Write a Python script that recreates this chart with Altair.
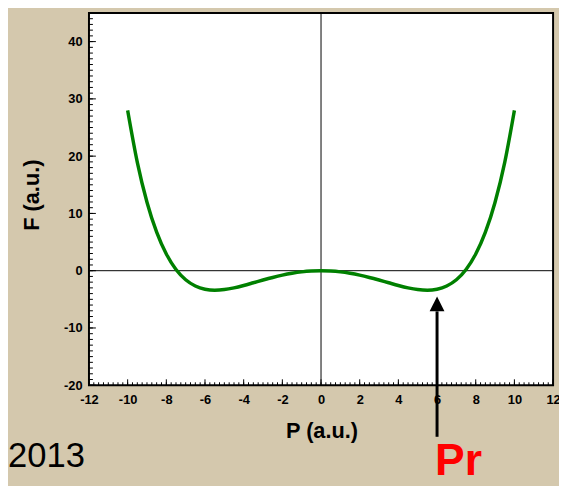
import altair as alt
import pandas as pd

# ---- data ----
P_vals = [-10, -9.5, -9, -8.5, -8, -7.5, -7, -6.5, -6, -5.5, -5, -4.5, -4, -3.5, -3,
          -2.5, -2, -1.5, -1, -0.5, 0, 0.5, 1, 1.5, 2, 2.5, 3, 3.5, 4, 4.5, 5, 5.5,
          6, 6.5, 7, 7.5, 8, 8.5, 9, 9.5, 10]
F_vals = [28.0, 18.93, 11.96, 6.73, 2.91, 0.21, -1.58, -2.67, -3.23, -3.40, -3.29,
          -2.99, -2.58, -2.11, -1.63, -1.18, -0.78, -0.45, -0.2, -0.05, 0.0, -0.05,
          -0.2, -0.45, -0.78, -1.18, -1.63, -2.11, -2.58, -2.99, -3.29, -3.40, -3.23,
          -2.67, -1.58, 0.21, 2.91, 6.73, 11.96, 18.93, 28.0]

x_major = [-12, -10, -8, -6, -4, -2, 0, 2, 4, 6, 8, 10, 12]
x_minor = [v / 4 for v in range(-48, 49)]
y_major = [-20, -10, 0, 10, 20, 30, 40]
y_minor = list(range(-20, 46))

Pr_value = 6
arrow_tail_F = -29.0
arrow_base_F = -7.1
arrow_head_F = -5.8

W, H = 470, 377
FONT = "Liberation Sans"

xscale = alt.Scale(domain=[-12, 12], nice=False, zero=False)
yscale = alt.Scale(domain=[-20, 45], nice=False, zero=False)

x_axis = alt.Axis(
    values=x_major, title="P (a.u.)", labelExpr="'' + datum.value",
    domain=False, ticks=False, grid=False, labelPadding=8,
    labelFont=FONT, labelFontSize=13, labelFontWeight="bold", labelColor="black",
    titleFont=FONT, titleFontSize=22, titleFontWeight="bold", titleColor="black",
    titleX=235.5, titleY=53, titleBaseline="alphabetic", titleAlign="center",
    labelFlush=False, labelOverlap=False)
y_axis = alt.Axis(
    values=y_major, title="F (a.u.)", labelExpr="'' + datum.value",
    domain=False, ticks=False, grid=False, labelPadding=7,
    labelFont=FONT, labelFontSize=13, labelFontWeight="bold", labelColor="black",
    titleFont=FONT, titleFontSize=22, titleFontWeight="bold", titleColor="black",
    titleX=-51.5, titleY=184, titleBaseline="alphabetic", titleAlign="center",
    titleAngle=270, labelFlush=False, labelOverlap=False)


def X(field):
    return alt.X(field, scale=xscale, axis=x_axis, title="P (a.u.)")


def Y(field):
    return alt.Y(field, scale=yscale, axis=y_axis, title="F (a.u.)")


curve_df = pd.DataFrame({"P": P_vals, "F": F_vals})

curve = alt.Chart(curve_df).mark_line(
    color="#008000", strokeWidth=3.5, interpolate="monotone"
).encode(x=X("P:Q"), y=Y("F:Q"))

zero_h = alt.Chart(pd.DataFrame({"F": [0]})).mark_rule(color="black", strokeWidth=1).encode(
    y=Y("F:Q"), x=alt.value(0), x2=alt.value(W))
zero_v = alt.Chart(pd.DataFrame({"P": [0]})).mark_rule(color="black", strokeWidth=1).encode(
    x=X("P:Q"), y=alt.value(0), y2=alt.value(H))

xmin_t = alt.Chart(pd.DataFrame({"P": x_minor})).mark_rule(color="black", strokeWidth=1).encode(
    x=X("P:Q"), y=alt.value(H), y2=alt.value(H - 3))
xmaj_t = alt.Chart(pd.DataFrame({"P": x_major})).mark_rule(color="black", strokeWidth=1).encode(
    x=X("P:Q"), y=alt.value(H), y2=alt.value(H - 6))
ymin_t = alt.Chart(pd.DataFrame({"F": y_minor})).mark_rule(color="black", strokeWidth=1).encode(
    y=Y("F:Q"), x=alt.value(0), x2=alt.value(4))
ymaj_t = alt.Chart(pd.DataFrame({"F": y_major})).mark_rule(color="black", strokeWidth=1).encode(
    y=Y("F:Q"), x=alt.value(0), x2=alt.value(7))

arrow_df = pd.DataFrame({"P": [Pr_value], "F": [arrow_tail_F], "F2": [arrow_base_F],
                         "Fh": [arrow_head_F]})
arrow_line = alt.Chart(arrow_df).mark_rule(color="black", strokeWidth=3).encode(
    x=X("P:Q"), y=Y("F:Q"), y2="F2:Q")
arrow_head = alt.Chart(arrow_df).mark_point(
    shape="M0,-1L-1,1L1,1Z", size=225, filled=True, color="black", opacity=1
).encode(x=X("P:Q"), y=Y("Fh:Q"))

pr_text = alt.Chart(pd.DataFrame({"P": [Pr_value], "label": ["Pr"]})).mark_text(
    font=FONT, fontSize=45, fontWeight="bold", color="#ff0000", align="left",
    baseline="alphabetic", dx=-2
).encode(x=X("P:Q"), y=alt.value(468), text="label:N")

year_text = alt.Chart(pd.DataFrame({"label": ["2013"]})).mark_text(
    font=FONT, fontSize=35, fontWeight="normal", color="black", align="left",
    baseline="alphabetic"
).encode(x=alt.value(-82), y=alt.value(460), text="label:N")

chart = alt.layer(
    zero_h, zero_v, xmin_t, xmaj_t, ymin_t, ymaj_t, curve, arrow_line, arrow_head,
    pr_text, year_text
).properties(
    width=W, height=H,
    autosize=alt.AutoSizeParams(type="none"),
    padding={"left": 82, "top": 2, "right": 6, "bottom": 99},
    background="#d4c8ad",
).configure_view(
    fill="white", stroke="black", strokeWidth=2
)

chart.save("out.html", embed_options={"renderer": "svg", "actions": False})
